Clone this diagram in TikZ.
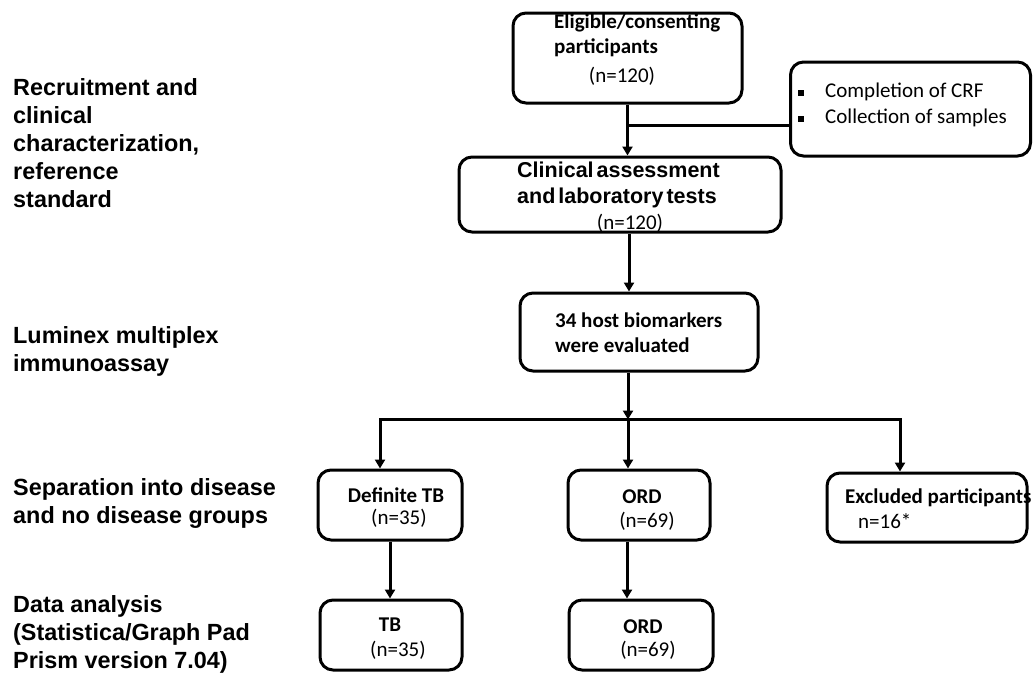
\documentclass[tikz,border=0pt]{standalone}
\usepackage{fontspec}
\setmainfont{Carlito}
\newfontfamily\arialfont{Liberation Sans}
\usetikzlibrary{arrows.meta,positioning}

\begin{document}
\begin{tikzpicture}[x=1pt,y=-1pt,
stage/.style={font=\arialfont\bfseries\fontsize{23.4}{28}\selectfont,
  align=left,anchor=north west,inner sep=0pt},
box/.style={draw,line width=3pt,rounded corners=13pt},
txt/.style={font=\fontsize{21}{25}\selectfont,inner sep=0pt},
hd/.style={txt,font=\bfseries\fontsize{21}{25}\selectfont},
clinfont/.style={inner sep=0pt,font=\arialfont\bfseries\fontsize{21.5}{26}\selectfont},
line/.style={line width=3pt},
arr/.style={line width=3pt,-{Triangle[length=9pt,width=10pt]}}]
\useasboundingbox (0,0) rectangle (1033,673);

% stages on the left
\node[stage] (rec) at (13,78) {Recruitment and\\clinical\\characterization,\\reference\\standard};
\node[stage] (lum) at (13,326) {Luminex multiplex\\immunoassay};
\node[stage] (sep) at (13,478) {Separation into disease\\and no disease groups};
\node[stage] (dat) at (13,595) {Data analysis\\(Statistica/Graph Pad\\Prism version 7.04)};

% boxes
\node[box,minimum width=229pt,minimum height=90pt] (elig) at (627.5,58) {};
\node[box,minimum width=240pt,minimum height=94pt] (side) at (910.5,109) {};
\node[box,minimum width=322pt,minimum height=75pt] (clin) at (620,194.5) {};
\node[box,minimum width=238pt,minimum height=78pt] (bio) at (639,332) {};
\node[box,minimum width=144pt,minimum height=70pt] (deftb) at (390,505) {};
\node[box,minimum width=142pt,minimum height=70pt] (ord) at (639,505) {};
\node[box,minimum width=200pt,minimum height=69pt] (excl) at (927,507.5) {};
\node[box,minimum width=142pt,minimum height=70pt] (tb) at (391,635) {};
\node[box,minimum width=144pt,minimum height=70pt] (ord2) at (641,635) {};

% box texts
\node[hd,anchor=north west,align=left] (elig-t) at (554,14) {Eligible/consenting\\participants};
\node[txt,anchor=base] (elig-n) at (622,82) {(n=120)};
\node[txt,anchor=north west,align=left,font=\fontsize{21}{26}\selectfont] (side-t) at (798,83)
  {\makebox[27pt][l]{\rule[2pt]{6pt}{6pt}}Completion of CRF\\
   \makebox[27pt][l]{\rule[2pt]{6pt}{6pt}}Collection of samples};
\node[clinfont,anchor=north west,align=left] (clin-t) at (517,162)
  {Clinical\hspace{3pt}assessment\\and\hspace{3pt}laboratory\hspace{3pt}tests};
\node[txt,anchor=base] (clin-n) at (630,229) {(n=120)};
\node[hd,anchor=north west,align=left] (bio-t) at (555,313) {34 host biomarkers\\were evaluated};
\node[hd,anchor=base] (deftb-t) at (396,502) {Definite TB};
\node[txt,anchor=base] (deftb-n) at (399,524) {(n=35)};
\node[hd,anchor=base] (ord-t) at (642,503) {ORD};
\node[txt,anchor=base] (ord-n) at (647,527) {(n=69)};
\node[hd,anchor=base west] (excl-t) at (845,503) {Excluded participants};
\node[txt,anchor=base west] (excl-n) at (858,528) {n=16*};
\node[hd,anchor=base] (tb-t) at (390,631) {TB};
\node[txt,anchor=base] (tb-n) at (398,656) {(n=35)};
\node[hd,anchor=base] (ord2-t) at (643,633) {ORD};
\node[txt,anchor=base] (ord2-n) at (648,656) {(n=69)};

% connectors
\coordinate (junc) at ([yshift=-21pt]elig.south);
\draw[arr] (elig.south) -- (elig.south |- clin.north);
\draw[line] (junc) -- (junc -| side.west);
\draw[arr] ([xshift=9pt]clin.south) -- ([xshift=9pt]clin.south |- bio.north);
\coordinate (split) at ([xshift=-11pt,yshift=-47pt]bio.south);
\draw[arr] ([xshift=-11pt]bio.south) -- (split);
\draw[arr] (split) -| ([xshift=-10pt]deftb.north);
\draw[arr] (split) -- ([xshift=-11pt]ord.north);
\draw[arr] (split) -| ([xshift=-27pt]excl.north);
\draw[arr] (deftb.south) -- (deftb.south |- tb.north);
\draw[arr] ([xshift=-12pt]ord.south) -- ([xshift=-12pt]ord.south |- ord2.north);
\end{tikzpicture}
\end{document}
